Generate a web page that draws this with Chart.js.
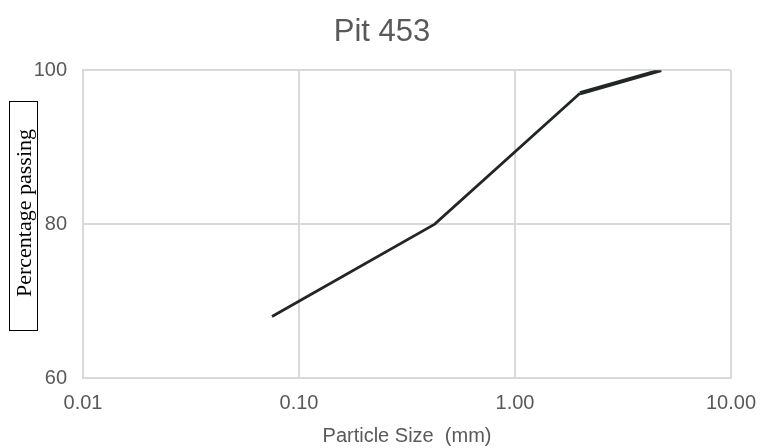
<!DOCTYPE html>
<html>
<head>
<meta charset="utf-8">
<script src="https://cdn.jsdelivr.net/npm/chart.js@4"></script>
<style>
  html, body { margin: 0; padding: 0; background: #fff; }
  #wrap { width: 764px; height: 448px; }
</style>
</head>
<body>
<div id="wrap"><canvas id="chart" width="764" height="448"></canvas></div>
<script>
// sieve data
const particleSizes = [0.075, 0.425, 2.0, 4.75];
const percentPassing = [68, 80, 97, 100];
const xTickValues = [0.01, 0.1, 1, 10];
const yTickValues = [60, 80, 100];

const greyText = '#595959';
const gridGrey = '#d9d9d9';
const sansFont = '"Liberation Sans", Arial, sans-serif';

// boxed, rotated y axis title like the original
const boxedYTitle = {
    id: 'boxedYTitle',
    afterDraw(chart) {
        const ctx = chart.ctx;
        ctx.save();
        ctx.strokeStyle = '#000';
        ctx.lineWidth = 1;
        ctx.strokeRect(9.5, 101.5, 28, 229);
        ctx.translate(24, 213);
        ctx.rotate(-Math.PI / 2);
        ctx.fillStyle = '#000';
        ctx.font = '22px "Liberation Serif", "Times New Roman", serif';
        ctx.textAlign = 'center';
        ctx.textBaseline = 'middle';
        ctx.fillText('Percentage passing', 0, 1);
        ctx.restore();
    }
};

const points = particleSizes.map((x, i) => ({ x: x, y: percentPassing[i] }));

new Chart(document.getElementById('chart'), {
    type: 'line',
    data: {
        datasets: [{
            data: points,
            borderColor: '#222725',
            borderWidth: 2.8,
            segment: {
                // last piece looks heavier in the original
                borderWidth: c => c.p1DataIndex === points.length - 1 ? 4 : 2.8
            },
            pointRadius: 0,
            tension: 0,
            fill: false
        }]
    },
    options: {
        responsive: false,
        animation: false,
        layout: { padding: 0 },
        plugins: {
            legend: { display: false },
            tooltip: { enabled: false },
            title: {
                display: true,
                text: 'Pit 453',
                color: greyText,
                font: { family: sansFont, size: 31, weight: 'normal', lineHeight: 1.2 },
                padding: { top: 14, bottom: 19 }
            }
        },
        scales: {
            x: {
                type: 'logarithmic',
                min: 0.01,
                max: 10,
                afterBuildTicks(axis) {
                    axis.ticks = xTickValues.map(v => ({ value: v }));
                },
                afterFit(axis) {
                    axis.height = 70;
                    axis.paddingRight = 33;
                },
                grid: { color: gridGrey, lineWidth: 2, drawTicks: false },
                border: { color: gridGrey, width: 2 },
                ticks: {
                    color: greyText,
                    padding: 13,
                    maxRotation: 0,
                    autoSkip: false,
                    font: { family: sansFont, size: 20 },
                    callback: v => Number(v).toFixed(2)
                },
                title: {
                    display: true,
                    text: 'Particle Size  (mm)',
                    color: greyText,
                    font: { family: sansFont, size: 20 },
                    padding: { top: 0, bottom: 0 }
                }
            },
            y: {
                min: 60,
                max: 100,
                afterBuildTicks(axis) {
                    axis.ticks = yTickValues.map(v => ({ value: v }));
                },
                afterFit(axis) { axis.width = 83; },
                grid: { color: gridGrey, lineWidth: 2, drawTicks: false },
                border: { color: gridGrey, width: 2 },
                ticks: {
                    color: greyText,
                    padding: 16,
                    font: { family: sansFont, size: 20 }
                }
            }
        }
    },
    plugins: [boxedYTitle]
});
</script>
</body>
</html>
